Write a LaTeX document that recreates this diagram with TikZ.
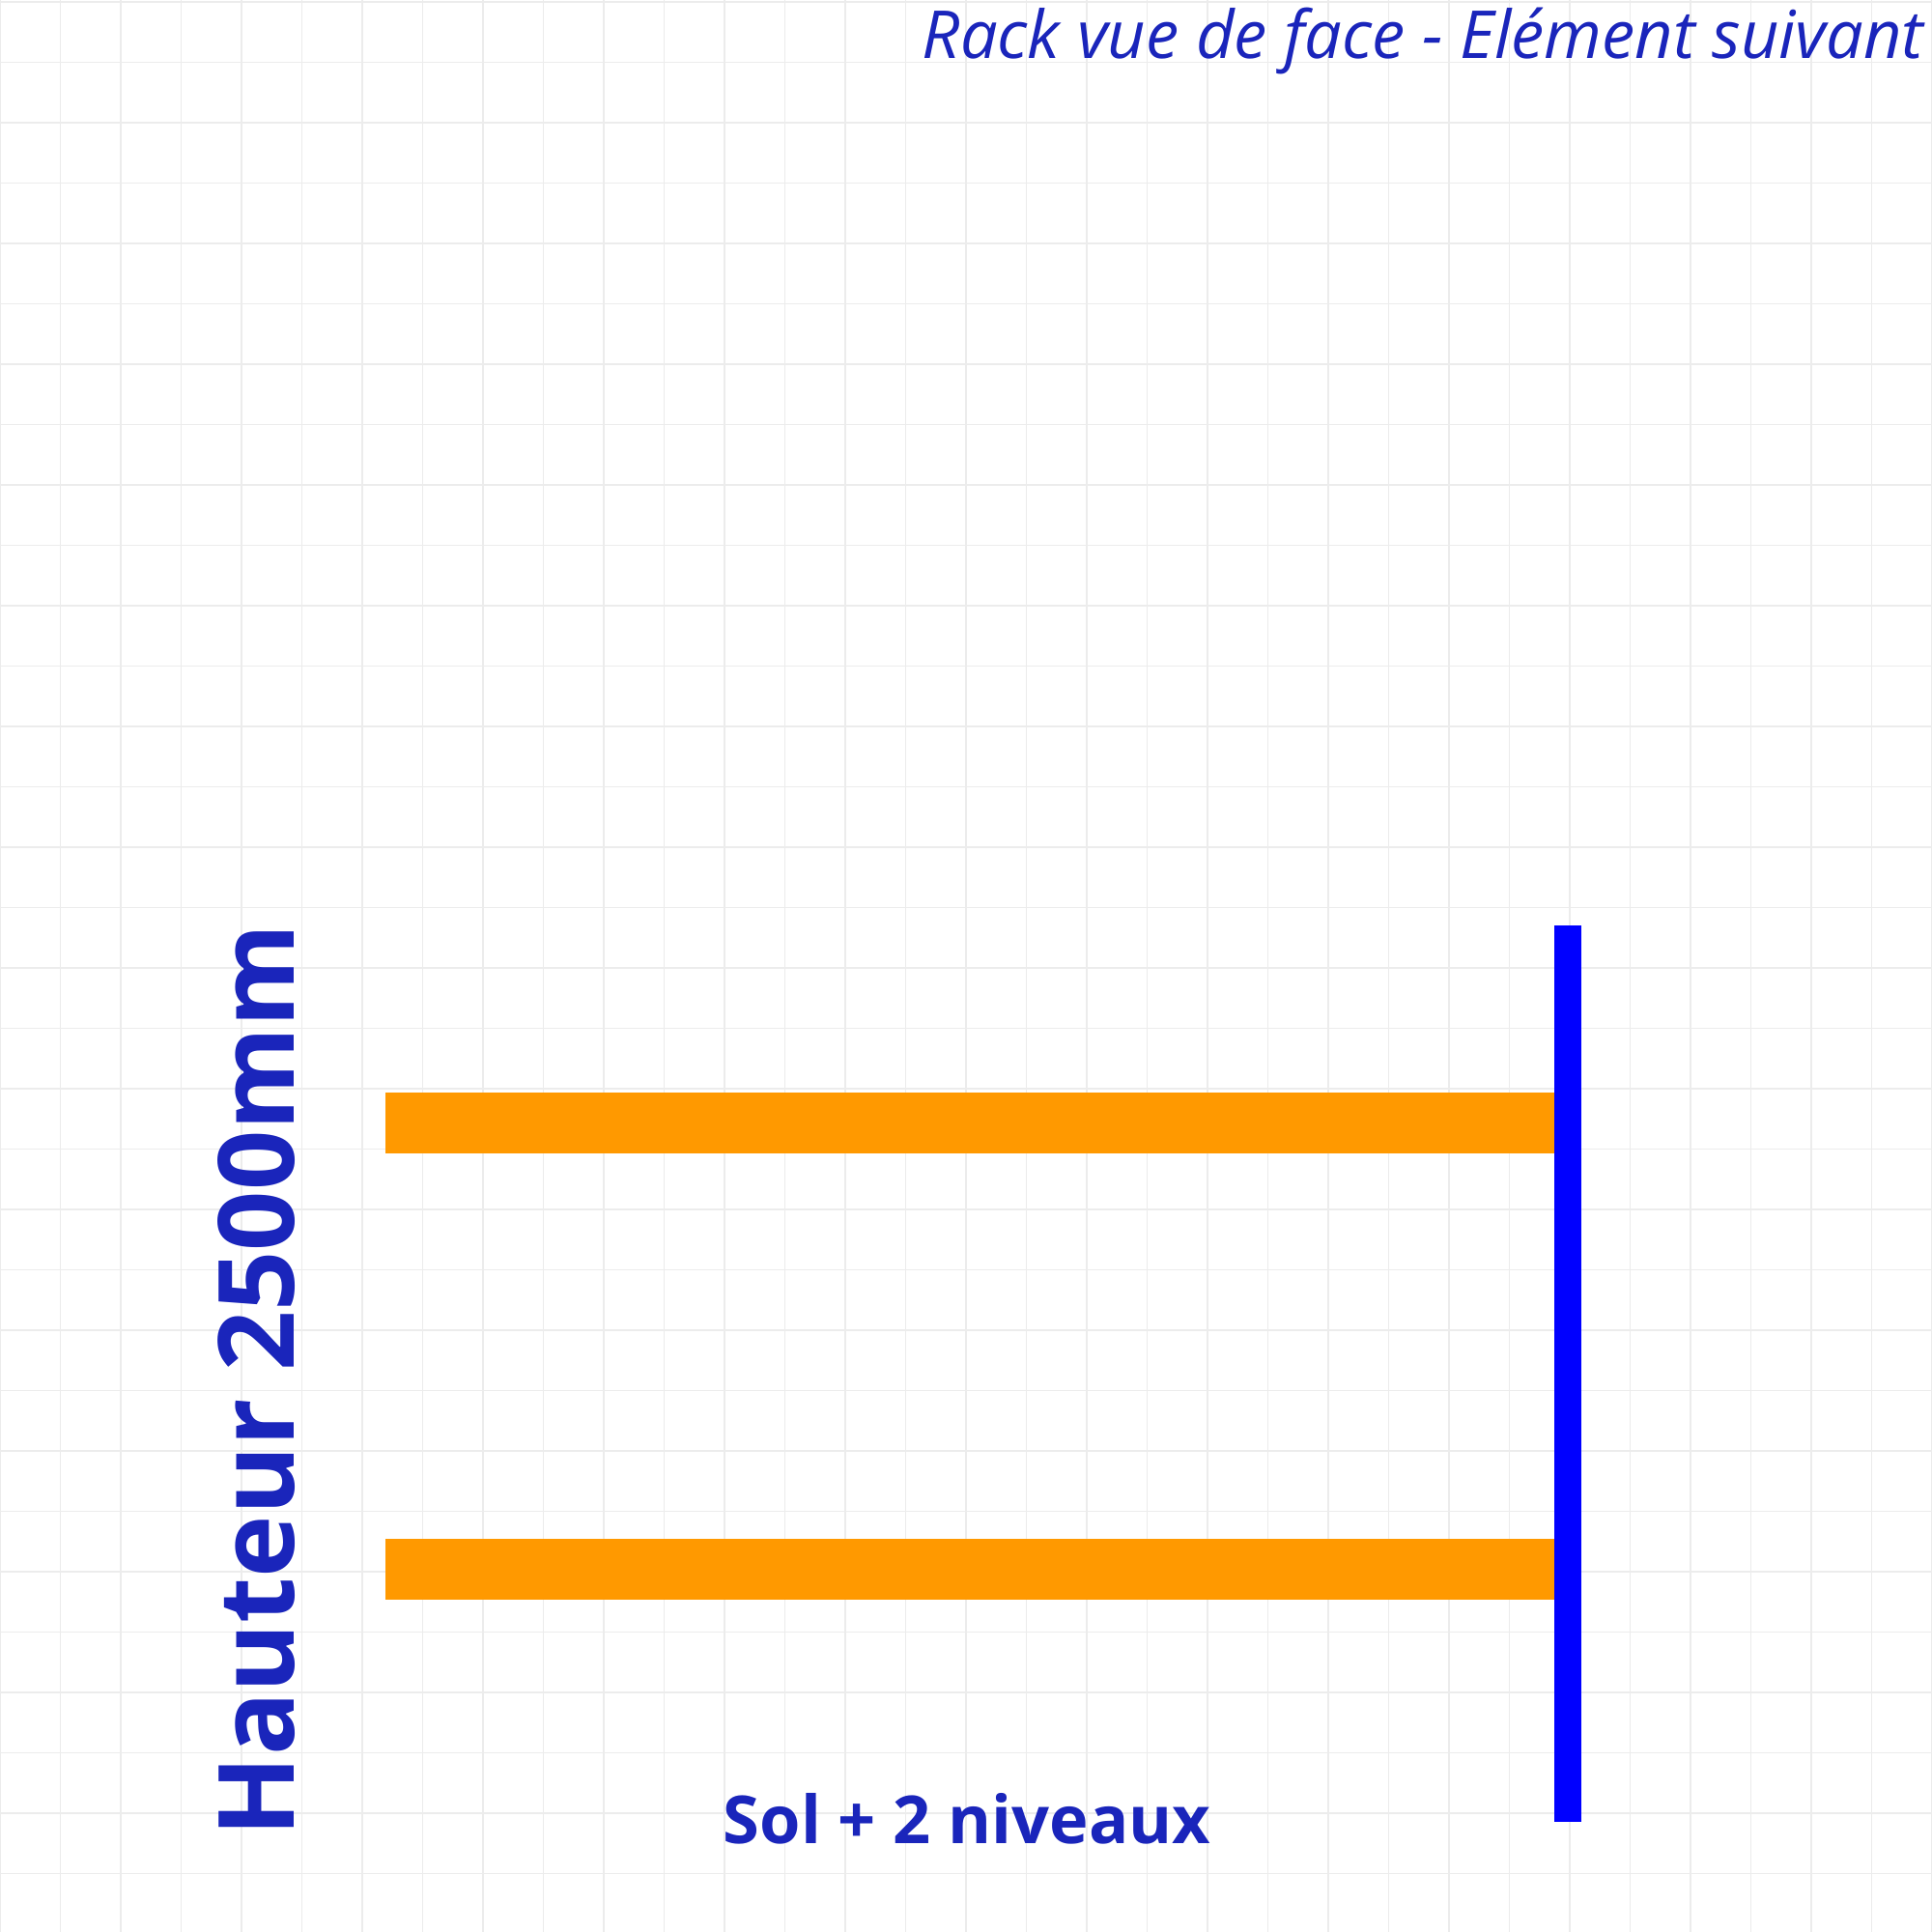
\documentclass[tikz,border=0pt]{standalone}
\usepackage{fontspec}
\setmainfont{Open Sans}
\usepackage{tikz}

\definecolor{inkblue}{RGB}{26,37,187}
\definecolor{uprightblue}{RGB}{0,0,255}
\definecolor{beamorange}{RGB}{255,153,0}
\definecolor{gridgray}{RGB}{236,236,236}

\tikzset{
  gridline/.style={gridgray, line width=0.4pt},
  beam/.style={fill=beamorange},
  upright/.style={fill=uprightblue},
  label/.style={inkblue, inner sep=0pt}
}

\begin{document}
\begin{tikzpicture}
      \fill[white] (0,0) rectangle (20,20);
      \useasboundingbox (0,0) rectangle (20,20);
      \foreach \i in {0,...,32} \draw[gridline] (0.625*\i,0) -- (0.625*\i,20);
      \foreach \j in {0,...,31} \draw[gridline] (0,19.98-0.625*\j) -- (20,19.98-0.625*\j);
      \fill[beam] (3.99,8.06) rectangle (16.10,8.685);
      \fill[beam] (3.99,3.44) rectangle (16.10,4.07);
      \fill[upright] (16.09,1.14) rectangle (16.37,10.42);
      \node[label, anchor=base east, font=\itshape\fontsize{19.5}{23}\selectfont] (title) at (19.92,19.39) {Rack vue de face - Elément suivant};
      \node[label, anchor=base west, rotate=90, font=\bfseries\fontsize{31}{36}\selectfont] (hauteur) at (3.04,0.98) {Hauteur 2500mm};
      \node[label, anchor=base, font=\bfseries\fontsize{19.5}{23}\selectfont] (niveaux) at (10.01,0.91) {Sol + 2 niveaux};
    \end{tikzpicture}
\end{document}
